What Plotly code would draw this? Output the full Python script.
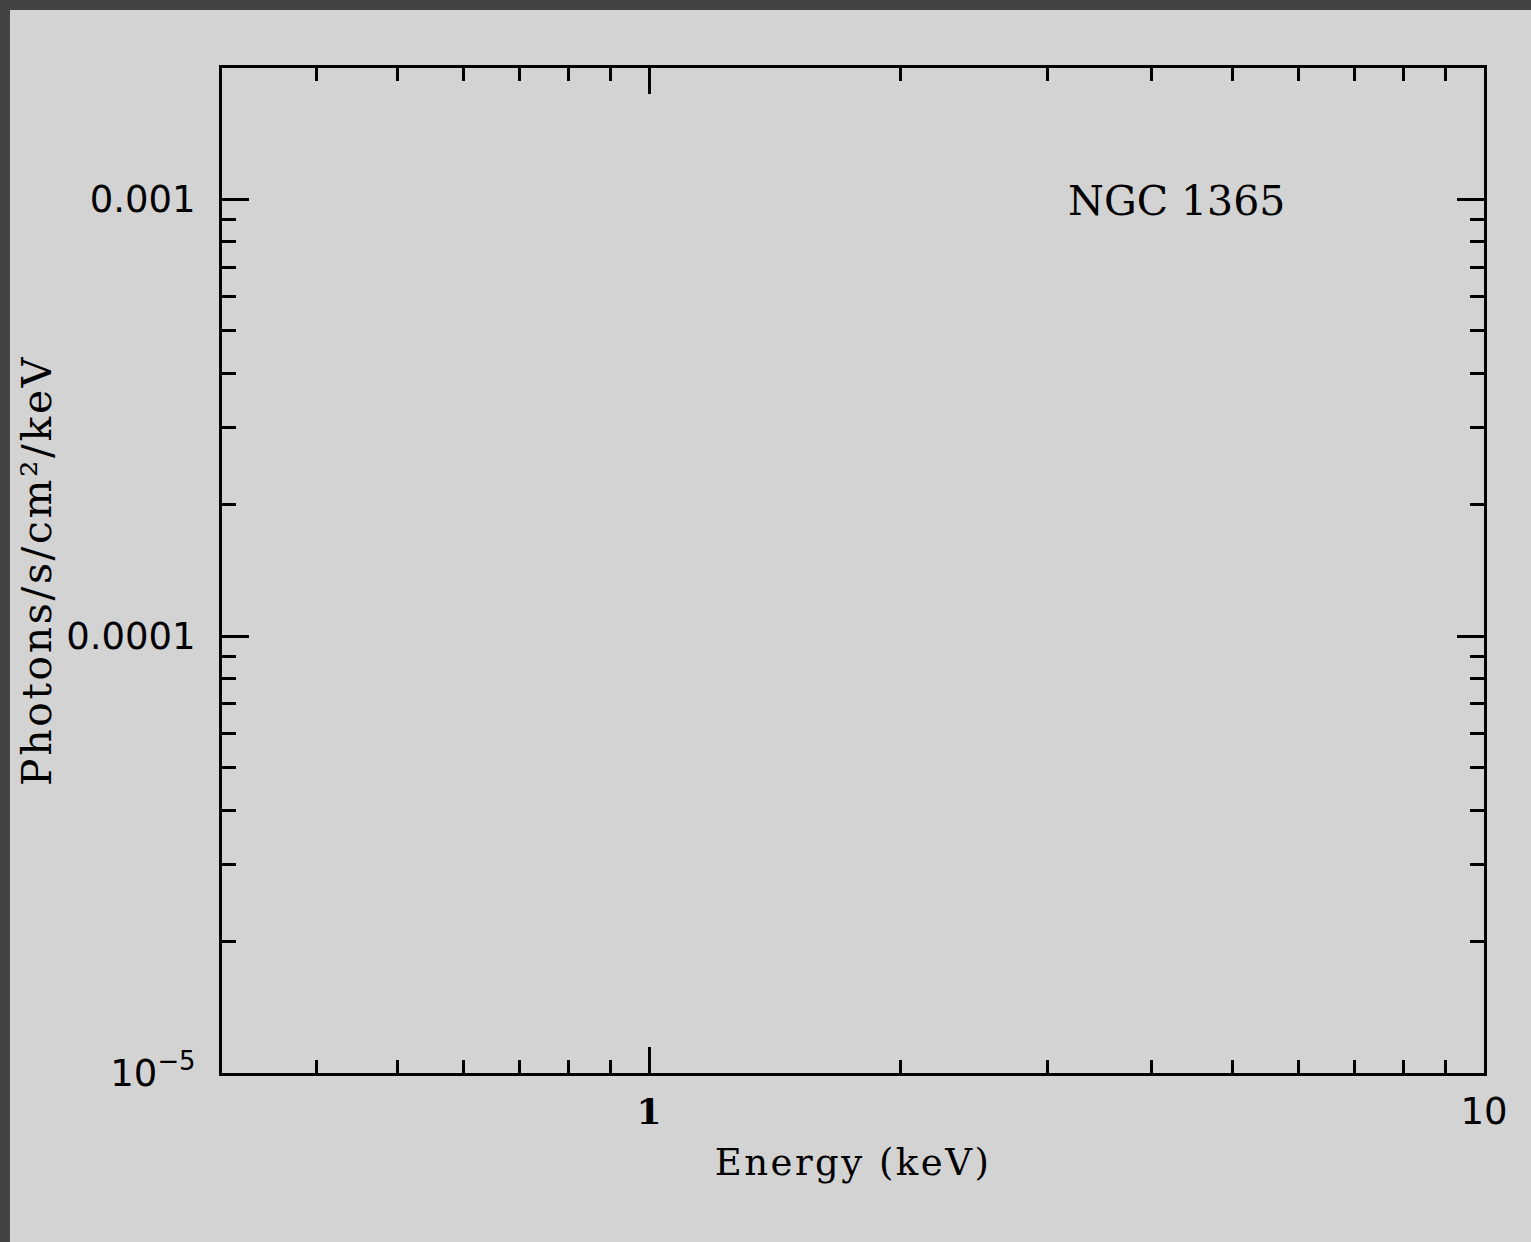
import math
import plotly.graph_objects as go

# Axis extents (keV, photons/s/cm^2/keV)
energy_range = [0.308, 10.0]
flux_range = [1e-5, 2e-3]

# Labelled (major) ticks
energy_major = [1, 10]
energy_major_text = ["<span style='font-family:DejaVu Serif;font-size:36px'><b>1</b></span>", "10"]
flux_major = [1e-5, 1e-4, 1e-3]
flux_major_text = ["10<sup>−5</sup>", "0.0001", "0.001"]

# Unlabelled (minor) ticks
energy_minor = [0.4, 0.5, 0.6, 0.7, 0.8, 0.9, 2, 3, 4, 5, 6, 7, 8, 9]
flux_minor = [2e-5, 3e-5, 4e-5, 5e-5, 6e-5, 7e-5, 8e-5, 9e-5,
              2e-4, 3e-4, 4e-4, 5e-4, 6e-4, 7e-4, 8e-4, 9e-4, 2e-3]

source_name = "NGC 1365"
x_title = "Energy (keV)"
y_title = "Photons/s/cm²/keV"

W, H = 1531, 1242
L, R, T, B = 222, 47, 68, 169
plot_w = W - L - R
plot_h = H - T - B


def px_x(p):
    return (p - L) / plot_w


def px_y(q):
    return (H - B - q) / plot_h


def spaced(text, gap):
    return f"<span style='letter-spacing:{gap}px'>{text}</span>"


BG = "#d3d3d3"
FRAME = "#434343"
INK = "black"

fig = go.Figure()

axis_common = dict(
    type="log",
    showgrid=False,
    zeroline=False,
    showline=True,
    linecolor=INK,
    linewidth=3,
    mirror="allticks",
    ticks="inside",
    tickcolor=INK,
    tickwidth=3,
    tickmode="array",
)

fig.update_xaxes(
    **axis_common,
    range=[math.log10(energy_range[0]), math.log10(energy_range[1])],
    tickvals=energy_major,
    ticktext=energy_major_text,
    ticklen=26,
    ticklabelstandoff=4,
    tickfont=dict(family="DejaVu Sans", size=37, color=INK),
    minor=dict(tickmode="array", tickvals=energy_minor, ticks="inside",
               ticklen=13, tickwidth=3, tickcolor=INK),
    title=dict(text=spaced(x_title, 2.5), font=dict(family="DejaVu Serif", size=37, color=INK),
               standoff=17),
)

fig.update_yaxes(
    **axis_common,
    range=[math.log10(flux_range[0]), math.log10(flux_range[1])],
    tickvals=flux_major,
    ticktext=flux_major_text,
    ticklen=27,
    ticklabelstandoff=16,
    tickfont=dict(family="DejaVu Sans", size=37, color=INK),
    minor=dict(tickmode="array", tickvals=flux_minor, ticks="inside",
               ticklen=14, tickwidth=3, tickcolor=INK),
    title=dict(text=spaced(y_title, 2.6), font=dict(family="DejaVu Serif", size=41, color=INK),
               standoff=2),
)

fig.add_annotation(
    x=px_x(1176), y=px_y(201), xref="paper", yref="paper",
    text=source_name, showarrow=False,
    font=dict(family="DejaVu Serif", size=41, color=INK),
    xanchor="center", yanchor="middle",
)

# Dark frame strips along the top and left edges of the page
fig.add_shape(type="rect", xref="paper", yref="paper", layer="above",
              x0=px_x(0), x1=px_x(W), y0=px_y(10), y1=px_y(0),
              fillcolor=FRAME, line=dict(width=0))
fig.add_shape(type="rect", xref="paper", yref="paper", layer="above",
              x0=px_x(0), x1=px_x(10), y0=px_y(H), y1=px_y(0),
              fillcolor=FRAME, line=dict(width=0))

fig.update_layout(
    width=W, height=H,
    margin=dict(l=L, r=R, t=T, b=B, pad=0),
    paper_bgcolor=BG,
    plot_bgcolor=BG,
    showlegend=False,
)

fig.write_html("out.html")
